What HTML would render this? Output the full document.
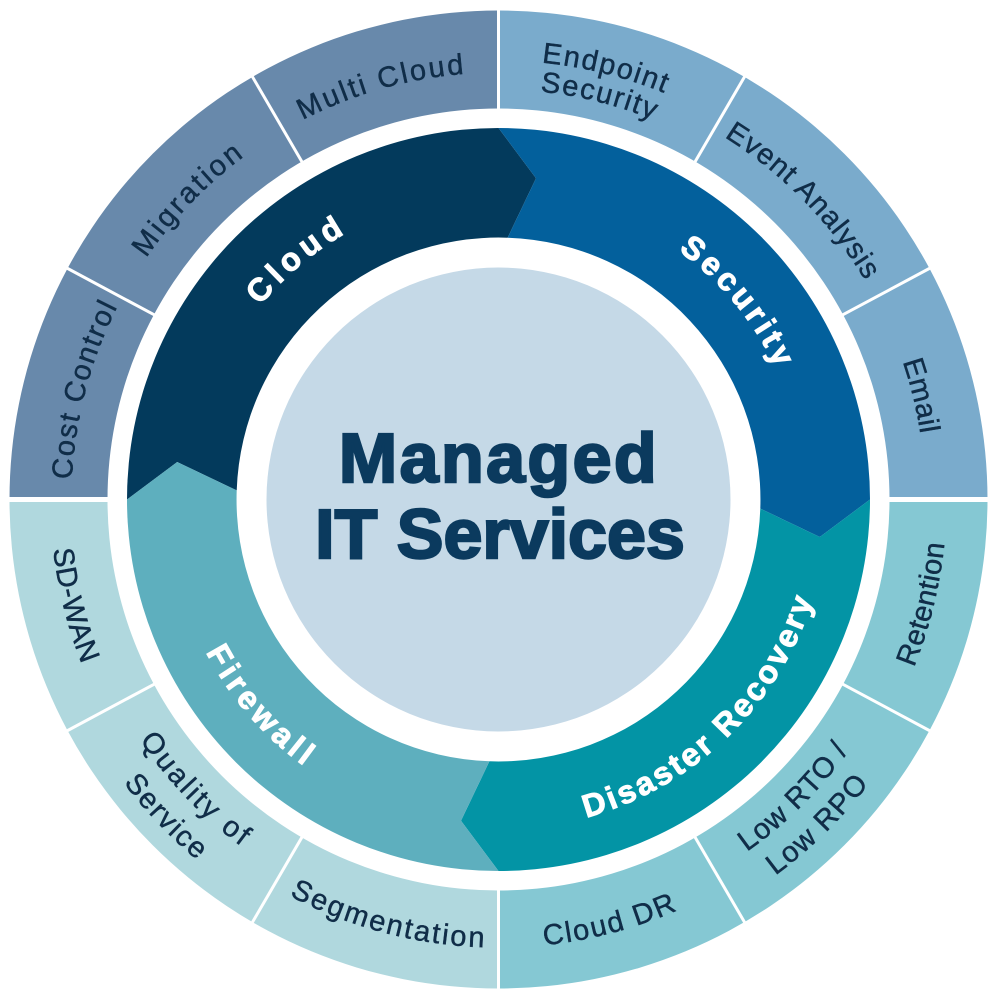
<!DOCTYPE html>
<html>
<head>
<meta charset="utf-8">
<style>
html,body{margin:0;padding:0;background:#fff;overflow:hidden;}
svg{display:block;}
.o{font-family:"Liberation Sans",sans-serif;font-size:29px;fill:#102d48;stroke:#102d48;stroke-width:0.45px;}
.i{font-family:"Liberation Sans",sans-serif;font-size:32px;font-weight:bold;fill:#ffffff;stroke:#ffffff;stroke-width:1px;}
.c{font-family:"Liberation Sans",sans-serif;font-size:70px;font-weight:bold;fill:#0b3a5e;stroke:#0b3a5e;stroke-width:2.4px;}
</style>
</head>
<body>
<svg width="1001" height="1001" viewBox="0 0 1001 1001" xmlns="http://www.w3.org/2000/svg">
<defs>
  <path id="t427" d="M -369.8 -213.5 A 427 427 0 0 1 369.8 -213.5"/>
  <path id="t439" d="M -380.2 -219.5 A 439 439 0 0 1 380.2 -219.5"/>
  <path id="t410" d="M -355.1 -205 A 410 410 0 0 1 355.1 -205"/>
  <path id="t307" d="M -265.9 -153.5 A 307 307 0 0 1 265.9 -153.5"/>
  <path id="b448" d="M -388 224 A 448 448 0 0 0 388 224"/>
  <path id="b431" d="M -373.3 215.5 A 431 431 0 0 0 373.3 215.5"/>
  <path id="b467" d="M -404.4 233.5 A 467 467 0 0 0 404.4 233.5"/>
  <path id="b432" d="M -374.1 216 A 432 432 0 0 0 374.1 216"/>
  <path id="b470" d="M -407 235 A 470 470 0 0 0 407 235"/>
  <path id="b330" d="M -285.8 165 A 330 330 0 0 0 285.8 165"/>
</defs>
<rect width="1001" height="1001" fill="#ffffff"/>
<g transform="translate(498.5,499.5)">
  <!-- outer ring quadrants -->
  <path d="M -489 0 A 489 489 0 0 1 0 -489 L 0 -391 A 391 391 0 0 0 -391 0 Z" fill="#6889ab"/>
  <path d="M 0 -489 A 489 489 0 0 1 489 0 L 391 0 A 391 391 0 0 0 0 -391 Z" fill="#7aabcc"/>
  <path d="M 489 0 A 489 489 0 0 1 0 489 L 0 391 A 391 391 0 0 0 391 0 Z" fill="#85c8d3"/>
  <path d="M 0 489 A 489 489 0 0 1 -489 0 L -391 0 A 391 391 0 0 0 0 391 Z" fill="#b0d8de"/>
  <!-- quadrant gaps -->
  <g stroke="#ffffff" fill="none">
    <line x1="0" y1="-496" x2="0" y2="-380" stroke-width="3"/>
    <line x1="0" y1="380" x2="0" y2="496" stroke-width="3"/>
    <line x1="-496" y1="0" x2="-380" y2="0" stroke-width="5"/>
    <line x1="380" y1="0" x2="496" y2="0" stroke-width="5"/>
    <!-- separators -->
    <g stroke-width="3">
      <line x1="-341.9" y1="-183.4" x2="-433.6" y2="-232.5"/>
      <line x1="-195.2" y1="-335.4" x2="-247.5" y2="-425.2"/>
      <line x1="195.2" y1="-335.4" x2="247.5" y2="-425.2"/>
      <line x1="341.9" y1="-183.4" x2="433.6" y2="-232.5"/>
      <line x1="341.9" y1="183.4" x2="433.6" y2="232.5"/>
      <line x1="195.2" y1="335.4" x2="247.5" y2="425.2"/>
      <line x1="-195.2" y1="335.4" x2="-247.5" y2="425.2"/>
      <line x1="-341.9" y1="183.4" x2="-433.6" y2="232.5"/>
    </g>
  </g>

  <!-- inner ring sections -->
  <path d="M -371.5 0 A 371.5 371.5 0 0 1 0 -371.5 L 37.5 -321.3 L 9.1 -261.8 A 262 262 0 0 0 -261.8 -9.1 L -321.3 -37.5 Z" fill="#033a5c"/>
  <path d="M 0 -371.5 A 371.5 371.5 0 0 1 371.5 0 L 321.3 37.5 L 261.8 9.1 A 262 262 0 0 0 9.1 -261.8 L 37.5 -321.3 Z" fill="#03609c"/>
  <path d="M 371.5 0 A 371.5 371.5 0 0 1 0 371.5 L -37.5 321.3 L -9.1 261.8 A 262 262 0 0 0 261.8 9.1 L 321.3 37.5 Z" fill="#0394a5"/>
  <path d="M 0 371.5 A 371.5 371.5 0 0 1 -371.5 0 L -321.3 -37.5 L -261.8 -9.1 A 262 262 0 0 0 -9.1 261.8 L -37.5 321.3 Z" fill="#5eafbe"/>

  <!-- center circle -->
  <circle cx="0" cy="0" r="232" fill="#c5d9e7"/>

  <!-- outer labels: top half -->
  <g transform="rotate(284.85)"><text class="o" text-anchor="middle" style="letter-spacing:1.7px"><textPath href="#t427" startOffset="50%">Cost Control</textPath></text></g>
  <g transform="rotate(314.1)"><text class="o" text-anchor="middle" style="letter-spacing:2.8px"><textPath href="#t427" startOffset="50%">Migration</textPath></text></g>
  <g transform="rotate(344.2)"><text class="o" text-anchor="middle" style="letter-spacing:2.4px"><textPath href="#t427" startOffset="50%">Multi Cloud</textPath></text></g>
  <g transform="rotate(14)"><text class="o" text-anchor="middle" style="letter-spacing:1.7px"><textPath href="#t439" startOffset="50%">Endpoint</textPath></text></g>
  <g transform="rotate(14.1)"><text class="o" text-anchor="middle" style="letter-spacing:1.7px"><textPath href="#t410" startOffset="50%">Security</textPath></text></g>
  <g transform="rotate(45.6)"><text class="o" text-anchor="middle" style="letter-spacing:1.1px"><textPath href="#t427" startOffset="50%">Event Analysis</textPath></text></g>
  <g transform="rotate(76.2)"><text class="o" text-anchor="middle" style="letter-spacing:0.5px"><textPath href="#t427" startOffset="50%">Email</textPath></text></g>

  <!-- outer labels: bottom half -->
  <g transform="rotate(-76.2)"><text class="o" text-anchor="middle" style="letter-spacing:0.5px"><textPath href="#b448" startOffset="50%">Retention</textPath></text></g>
  <g transform="rotate(-44.8)"><text class="o" text-anchor="middle" style="letter-spacing:0.8px"><textPath href="#b431" startOffset="50%">Low RTO /</textPath></text></g>
  <g transform="rotate(-44.5)"><text class="o" text-anchor="middle" style="letter-spacing:1.2px"><textPath href="#b467" startOffset="50%">Low RPO</textPath></text></g>
  <g transform="rotate(-14.8)"><text class="o" text-anchor="middle" style="letter-spacing:1.8px"><textPath href="#b448" startOffset="50%">Cloud DR</textPath></text></g>
  <g transform="rotate(14.7)"><text class="o" text-anchor="middle" style="letter-spacing:2.2px"><textPath href="#b448" startOffset="50%">Segmentation</textPath></text></g>
  <g transform="rotate(46.2)"><text class="o" text-anchor="middle" style="letter-spacing:2.8px"><textPath href="#b432" startOffset="50%">Quality of</textPath></text></g>
  <g transform="rotate(46.3)"><text class="o" text-anchor="middle" style="letter-spacing:1.7px"><textPath href="#b470" startOffset="50%">Service</textPath></text></g>
  <g transform="rotate(76)"><text class="o" text-anchor="middle" style="letter-spacing:0.5px"><textPath href="#b448" startOffset="50%">SD-WAN</textPath></text></g>

  <!-- inner labels -->
  <g transform="rotate(320)"><text class="i" text-anchor="middle" style="letter-spacing:5.2px"><textPath href="#t307" startOffset="50%">Cloud</textPath></text></g>
  <g transform="rotate(50.6)"><text class="i" text-anchor="middle" style="letter-spacing:4px"><textPath href="#t307" startOffset="50%">Security</textPath></text></g>
  <g transform="rotate(-44.1)"><text class="i" text-anchor="middle" style="letter-spacing:3px"><textPath href="#b330" startOffset="50%">Disaster Recovery</textPath></text></g>
  <g transform="rotate(48.9)"><text class="i" text-anchor="middle" style="letter-spacing:4.6px"><textPath href="#b330" startOffset="50%">Firewall</textPath></text></g>
</g>

<!-- center title -->
<text class="c" x="499" y="482" text-anchor="middle" style="letter-spacing:2.4px">Managed</text>
<text class="c" x="500" y="558" text-anchor="middle" style="letter-spacing:0px">IT Services</text>
</svg>
</body>
</html>
